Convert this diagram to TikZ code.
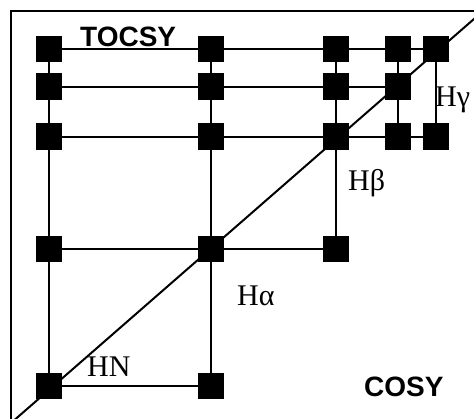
\documentclass[tikz,border=0pt]{standalone}
\usepackage{fontspec}
\setmainfont{Liberation Serif}
\setsansfont{Liberation Sans}
\usetikzlibrary{positioning}

\begin{document}
\begin{tikzpicture}[x=1pt, y=-1pt,
  pk/.style={fill=black, minimum size=26.5pt, inner sep=0pt},
  ln/.style={line width=2pt},
  tag/.style={anchor=base west, inner sep=0pt, font=\fontsize{30}{32}\selectfont},
  expt/.style={anchor=base west, inner sep=0pt, font=\fontsize{28}{30}\selectfont\sffamily\bfseries}]
  \useasboundingbox (0,0) rectangle (474,418);
  \clip (0,0) rectangle (474,418);
  % frame
  \draw[line width=1.3pt] (11,440) -- (11,11) -- (490,11);
  % diagonal
  \coordinate (lo) at (0,432.6);
  \coordinate (hi) at (490,5);
  \draw[ln] (lo) -- (hi);
  % cross peaks
  \node[pk] (r1c1) at (49,49) {};
  \node[pk] (r1c2) at (211,49) {};
  \node[pk] (r1c3) at (336,49) {};
  \node[pk] (r1c4) at (398,49) {};
  \node[pk] (r1c5) at (436,49) {};
  \node[pk] (r2c1) at (49,86.7) {};
  \node[pk] (r2c2) at (211,86.7) {};
  \node[pk] (r2c3) at (336,86.7) {};
  \node[pk] (r2c4) at (398,86.7) {};
  \node[pk] (r3c1) at (49,136.7) {};
  \node[pk] (r3c2) at (211,136.7) {};
  \node[pk] (r3c3) at (336,136.7) {};
  \node[pk] (r3c4) at (398,136.7) {};
  \node[pk] (r3c5) at (436,136.7) {};
  \node[pk] (r4c1) at (49,249) {};
  \node[pk] (r4c2) at (211,249) {};
  \node[pk] (r4c3) at (336,249) {};
  \node[pk] (r5c1) at (49,386) {};
  \node[pk] (r5c2) at (211,386) {};
  % rows
  \draw[ln] (r1c1) -- (r1c2) -- (r1c3) -- (r1c4) -- (r1c5);
  \draw[ln] (r2c1) -- (r2c2) -- (r2c3) -- (r2c4);
  \draw[ln] (r3c1) -- (r3c2) -- (r3c3) -- (r3c4) -- (r3c5);
  \draw[ln] (r4c1) -- (r4c2) -- (r4c3);
  \draw[ln] (r5c1) -- (r5c2);
  % columns
  \draw[ln] (r1c1) -- (r2c1) -- (r3c1) -- (r4c1) -- (r5c1);
  \draw[ln] (r1c2) -- (r2c2) -- (r3c2) -- (r4c2) -- (r5c2);
  \draw[ln] (r1c3) -- (r2c3) -- (r3c3) -- (r4c3);
  \draw[ln] (r1c4) -- (r2c4) -- (r3c4);
  \draw[ln] (r1c5) -- (r3c5);
  % labels
  \node[expt] (tocsy) at (80,46.7) {TOCSY};
  \node[expt] (cosy) at (364,396) {COSY};
  \node[tag] (hg) at (435,106) {Hγ};
  \node[tag] (hb) at (348,190.7) {Hβ};
  \node[tag] (ha) at (237,305) {Hα};
  \node[tag] (hn) at (87,376.7) {HN};
\end{tikzpicture}
\end{document}
